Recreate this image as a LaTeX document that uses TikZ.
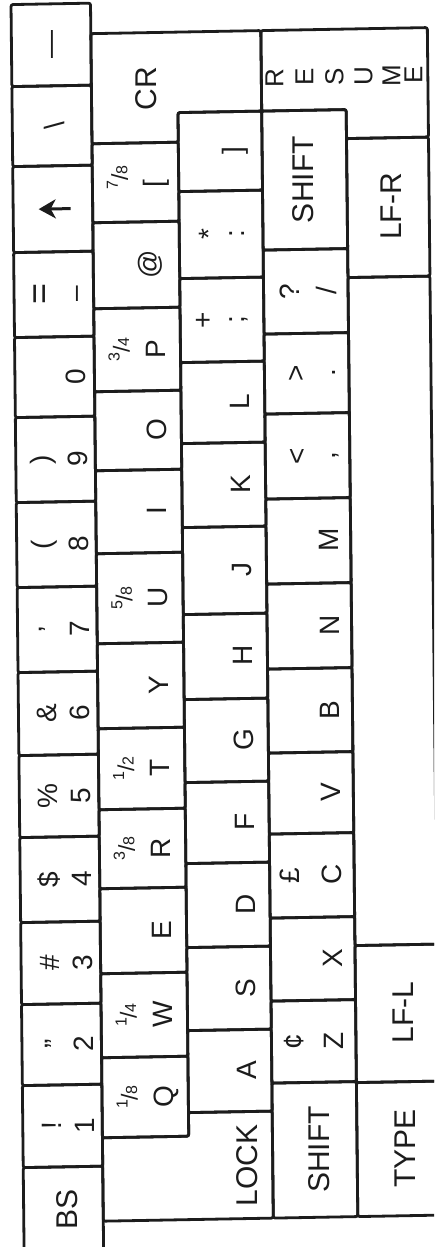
\documentclass[tikz,border=0pt]{standalone}
\usepackage{fontspec}
\setmainfont{Liberation Sans}
\usetikzlibrary{arrows.meta}
\definecolor{ink}{HTML}{1C1C1C}
\newcommand\fr[2]{\raisebox{9.5pt}{\fontsize{16}{16}\selectfont #1}\kern-0.5pt\raisebox{-0.5pt}{\fontsize{23}{23}\selectfont /}\kern-0.5pt{\fontsize{16}{16}\selectfont #2}}
\begin{document}
\begin{tikzpicture}[x=1pt,y=-1pt]
\tikzset{
 keyb/.style={draw=ink, line width=2.8pt, rounded corners=2pt},
 lab/.style={rotate=90, anchor=base, inner sep=0pt, text=ink, font=\fontsize{28}{30}\selectfont},
 wrd/.style={lab, font=\fontsize{30}{32}\selectfont},
 frc/.style={lab},
 rsm/.style={lab, font=\fontsize{26}{28}\selectfont},
 big/.style={lab, font=\fontsize{36}{36}\selectfont},
}
\useasboundingbox (0,0) rectangle (434,1247);
\fill[white] (0,0) rectangle (434,1247);
\clip (0,0) rectangle (434,1247);
\begin{scope}[cm={1,0.018,-0.0105,1,(-6.5pt,-3.9pt)}]
% column 1 (number row)
\foreach \a/\b in {1/83,83/163,163/249,249/334,334/414,414/499,499/584,584/669,669/752,752/834,834/919,919/1001,1001/1082,1082/1164,1164/1280}
  {\draw[keyb] (17.5,\a) rectangle (97,\b);}
% column 2
\foreach \a/\b in {141.6/220.6,220.6/306.6,306.6/389.6,389.6/468.6,468.6/551.6,551.6/641.6,641.6/726.6,726.6/807.6,807.6/886.6,886.6/971.6,971.6/1055.6,1055.6/1135.6}
  {\draw[keyb] (97,\a) rectangle (183.3,\b);}
% column 3
\foreach \a/\b in {112/191,191/278,278/362,362/443,443/527,527/614,614/699,699/782,782/863,863/947,947/1030,1030/1112}
  {\draw[keyb] (183.3,\a) rectangle (267,\b);}
% column 4
\foreach \a/\b in {112/251,251/335,335/415,415/500,500/585,585/670,670/754,754/835,835/919,919/1002,1002/1084,1084/1219}
  {\draw[keyb] (267,\a) rectangle (351.5,\b);}
% column 5
\foreach \a/\b in {141/280,280/948,948/1085,1085/1219}
  {\draw[keyb] (351.5,\a) rectangle (433.5,\b);}
% L-shaped keys
\draw[keyb] (97,31.5) -- (267,31.5) -- (267,112) -- (183.3,112) -- (183.3,141.6) -- (97,141.6) -- cycle;
\draw[keyb] (267,31.5) -- (433.5,31.5) -- (433.5,141) -- (351.5,141) -- (351.5,112) -- (267,112) -- cycle;
\draw[keyb] (97,1135.6) -- (183.3,1135.6) -- (183.3,1112) -- (267,1112) -- (267,1219) -- (97,1219) -- cycle;

% ---- labels column 1
\node[lab] (kem) at (66,42) {—};
\node[lab] (kbs) at (70,123) {\textbackslash};
\coordinate (arT) at (75,206);
\coordinate (arH) at (43,206);
\draw[ink, line width=3pt, -{Stealth[length=17pt,width=19pt,inset=5pt]}] (arT) -- (arH);
\node[big] (keq) at (55,291.5) {=};
\node[lab] (kmi) at (88,291.5) {–};
\node[lab] (k0) at (88,374) {0};
\node[lab] (k9s) at (52,456.5) {)};
\node[lab] (k9) at (89,456.5) {9};
\node[lab] (k8s) at (52,541.5) {(};
\node[lab] (k8) at (89,541.5) {8};
\node[lab] (k7s) at (58,626.5) {’};
\node[lab] (k7) at (89,626.5) {7};
\node[lab] (k6s) at (56,710.5) {\&};
\node[lab] (k6) at (89,710.5) {6};
\node[lab] (k5s) at (56,793) {\%};
\node[lab] (k5) at (89,793) {5};
\node[lab] (k4s) at (56,876.5) {\$};
\node[lab] (k4) at (89,876.5) {4};
\node[lab] (k3s) at (56,960) {\#};
\node[lab] (k3) at (89,960) {3};
\node[lab] (k2s) at (60,1041.5) {”};
\node[lab] (k2) at (89,1041.5) {2};
\node[lab] (k1s) at (56,1123) {!};
\node[lab] (k1) at (89,1123) {1};
\node[wrd] (kBS) at (71,1207) {BS};
% ---- column 2
\node[wrd] (kCR) at (162.5,88) {CR};
\node[frc] (f78) at (132,176) {\fr{7}{8}};
\node[lab] (klb) at (168,183) {[};
\node[lab] (kat) at (162,263.6) {@};
\node[frc] (f34) at (132,348.1) {\fr{3}{4}};
\node[lab] (kP) at (168,348.1) {P};
\node[lab] (kO) at (168,429.1) {O};
\node[lab] (kI) at (168,510.1) {I};
\node[frc] (f58) at (132,596.6) {\fr{5}{8}};
\node[lab] (kU) at (168,596.6) {U};
\node[lab] (kY) at (168,684.1) {Y};
\node[frc] (f12) at (132,767.1) {\fr{1}{2}};
\node[lab] (kT) at (168,767.1) {T};
\node[frc] (f38) at (132,847.1) {\fr{3}{8}};
\node[lab] (kR) at (168,847.1) {R};
\node[lab] (kE) at (168,929.1) {E};
\node[frc] (f14) at (132,1013.6) {\fr{1}{4}};
\node[lab] (kW) at (168,1013.6) {W};
\node[frc] (f18) at (132,1095.6) {\fr{1}{8}};
\node[lab] (kQ) at (168,1095.6) {Q};
% ---- column 3
\node[lab] (krb) at (247,151.5) {]};
\node[lab] (kst) at (223,234.5) {*};
\node[lab] (kco) at (249,234.5) {:};
\node[lab] (kpl) at (216,320) {+};
\node[lab] (ksc) at (248,320) {;};
\node[lab] (kL) at (252,402.5) {L};
\node[lab] (kK) at (252,485) {K};
\node[lab] (kJ) at (252,570.5) {J};
\node[lab] (kH) at (252,656.5) {H};
\node[lab] (kG) at (252,740.5) {G};
\node[lab] (kF) at (252,822.5) {F};
\node[lab] (kD) at (252,905) {D};
\node[lab] (kS) at (252,988.5) {S};
\node[lab] (kA) at (252,1071) {A};
\node[wrd] (kLOCK) at (252,1166) {LOCK};
% ---- column 4
\node[wrd] (kSHR) at (318,181.5) {SHIFT};
\node[lab] (kqu) at (303,293) {?};
\node[lab] (ksl) at (340,293) {/};
\node[lab] (kgt) at (308,375) {>};
\node[lab] (kdt) at (338,375) {.};
\node[lab] (klt) at (308,457.5) {<};
\node[lab] (kcm) at (337,457.5) {,};
\node[lab] (kM) at (339,542.5) {M};
\node[lab] (kN) at (339,627.5) {N};
\node[lab] (kB) at (339,712) {B};
\node[lab] (kV) at (339,794.5) {V};
\node[lab] (kpd) at (297,877) {£};
\node[lab] (kC) at (339,877) {C};
\node[lab] (kX) at (339,960.5) {X};
\node[lab] (kct) at (299,1043) {¢};
\node[lab] (kZ) at (339,1043) {Z};
\node[wrd] (kSHL) at (324,1151.5) {SHIFT};
% ---- column 5
\node[wrd] (kLFR) at (406,210) {LF-R};
\node[wrd] (kLFL) at (409,1016) {LF-L};
\node[wrd] (kTYPE) at (410,1152) {TYPE};
% ---- RESUME
\node[rsm] (rs1) at (289,79) {R};
\node[rsm] (rs2) at (319,79) {E};
\node[rsm] (rs3) at (349,79) {S};
\node[rsm] (rs4) at (378,79) {U};
\node[rsm] (rs5) at (406,79) {M};
\node[rsm] (rs6) at (428,79) {E};
\end{scope}
\end{tikzpicture}
\end{document}
